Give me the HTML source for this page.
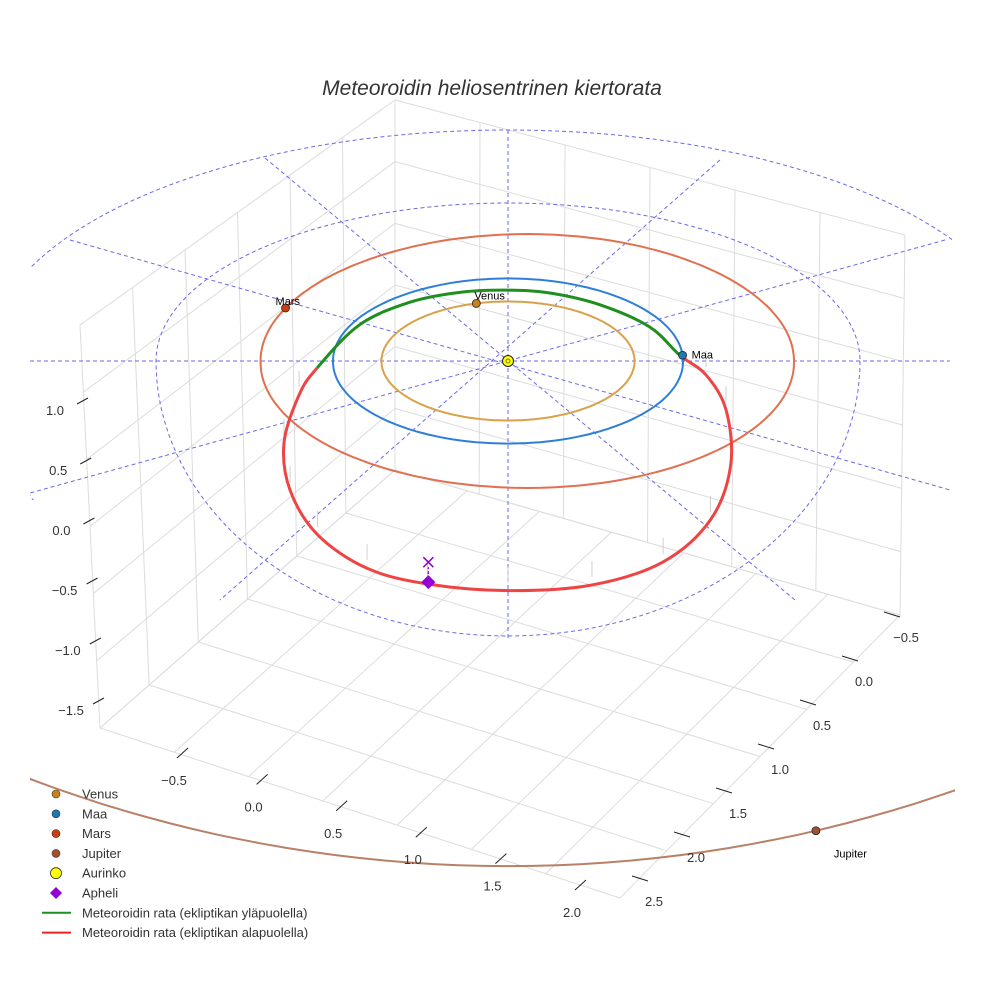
<!DOCTYPE html>
<html><head><meta charset="utf-8">
<style>
html,body{margin:0;padding:0;background:#fff;}
svg{display:block;font-family:"Liberation Sans",sans-serif;}
</style></head>
<body>
<svg id="chart" width="984" height="984" viewBox="0 0 984 984">
<rect width="984" height="984" fill="#fff"/>
<text x="492" y="95" text-anchor="middle" font-size="21" font-style="italic" fill="#333">Meteoroidin heliosentrinen kiertorata</text>
<g id="box"></g>
<g id="refs"></g>
<g id="orbits"></g>
<g id="meteor"></g>
<g id="marks"></g>
<g id="axes"></g>
<g id="legend"></g>
</svg>
<script>
// ---- data ----
const planetNames = ["Venus","Maa","Mars","Jupiter"];
const planetRadii = [0.723, 1.0, 1.524, 5.2];
const planetCenterX = [0, 0, 0.11, 0];
const planetAngles = [-104.5, -4, -155, 71];
const planetColors = ["#c8821a","#1f77b4","#cc3d10","#a0522d"];
const orbitColors = ["#d9a24a","#2f7fd8","#e07050","#b98068"];
const meteorGreen = [[0.98,-0.073],[0.81,-0.414],[0.53,-0.68],[0.24,-0.825],[0,-0.86],[-0.27,-0.835],[-0.56,-0.715],[-0.85,-0.438],[-1.09,0.085]];
const meteorRed = [[-1.19,0.414],[-1.27,0.993],[-1.23,1.55],[-1.07,2.06],[-0.79,2.43],[-0.45,2.6],[0,2.67],[0.47,2.61],[0.87,2.36],[1.14,1.89],[1.26,1.255],[1.24,0.595],[1.13,0.17]];
const aphelion = [-0.446, 2.58];
const zTicks = ["1.0","0.5","0.0","\u22120.5","\u22121.0","\u22121.5"];
const xTicks = ["\u22120.5","0.0","0.5","1.0","1.5","2.0"];
const yTicks = ["\u22120.5","0.0","0.5","1.0","1.5","2.0","2.5"];

const NS="http://www.w3.org/2000/svg";
function mk(tag,attrs,parent){const e=document.createElementNS(NS,tag);for(const k in attrs)e.setAttribute(k,attrs[k]);parent.appendChild(e);return e;}
// projection of ecliptic coordinates (AU)
const CX=508, CY=361, SX=175, SY=82, PK=0.56, PX=0.008;
function px(x,y){return CX+SX*x*(1+PX*Math.max(y||0,0));}
function py(y){return CY+SY*y+PK*y*y*y;}

// ---- box grid ----
const box=document.getElementById('box');
function bil(q,u,v){const [a,b,c,d]=q;
 const x=(1-u)*(1-v)*a[0]+u*(1-v)*b[0]+u*v*c[0]+(1-u)*v*d[0];
 const y=(1-u)*(1-v)*a[1]+u*(1-v)*b[1]+u*v*c[1]+(1-u)*v*d[1];return [x,y];}
function gridQuad(q,nu,nv){
 for(let i=0;i<=nu;i++){const p=bil(q,i/nu,0),r=bil(q,i/nu,1);
  const l=mk('line',{x1:p[0],y1:p[1],x2:r[0],y2:r[1],stroke:'#dcdcdc','stroke-width':1},box);
  }
 for(let j=0;j<=nv;j++){const p=bil(q,0,j/nv),r=bil(q,1,j/nv);
  const l=mk('line',{x1:p[0],y1:p[1],x2:r[0],y2:r[1],stroke:'#dcdcdc','stroke-width':1},box);
  }
}
gridQuad([[395,100],[80,325],[100,728],[395,470]],6,6);
gridQuad([[395,100],[905,235],[900,615],[395,470]],6,6);
gridQuad([[395,470],[100,728],[620,898],[900,615]],6,7);

// ---- reference dashed rings & rays ----
const refs=document.getElementById('refs');
function halfEll(rx,ryT,ryB){
 let d='';
 for(let i=0;i<=360;i+=2){const t=i*Math.PI/180;const s=Math.sin(t);
  const x=CX+rx*Math.cos(t);const y=CY+(s<0?ryT:ryB)*s;
  d+=(i?'L':'M')+x.toFixed(1)+','+y.toFixed(1);}
 return d;}
let e=mk('path',{d:halfEll(352,158,275),fill:'none',stroke:'#6a6ae8','stroke-width':1,'stroke-dasharray':'4,3'},refs);

const clp=mk('clipPath',{id:'cl'},refs);mk('rect',{x:30,y:0,width:922,height:500},clp);
e=mk('path',{d:halfEll(522,231,335),fill:'none',stroke:'#6a6ae8','stroke-width':1,'stroke-dasharray':'4,3','clip-path':'url(#cl)'},refs);

[[70,240,950,490],[265,158,795,600],[508,130,508,640],[720,160,220,600],[945,240,30,493],[30,361,950,361]].forEach(r=>{
 const l=mk('line',{x1:r[0],y1:r[1],x2:r[2],y2:r[3],stroke:'#6a6ae8','stroke-width':1,'stroke-dasharray':'4,3'},refs);
 });

// ---- planet orbits ----
const orb=document.getElementById('orbits');
const clipJ=mk('clipPath',{id:'cj'},orb);mk('rect',{x:30,y:0,width:925,height:984},clipJ);
planetRadii.forEach((r,i)=>{
 let d='';for(let k=0;k<=240;k++){const t=k/240*2*Math.PI;const yy=r*Math.sin(t);
  d+=(k?'L':'M')+px(planetCenterX[i]+r*Math.cos(t),yy).toFixed(1)+','+py(yy).toFixed(1);}
 const p=mk('path',{d:d,fill:'none',stroke:orbitColors[i],'stroke-width':2},orb);
 if(i===3)p.setAttribute('clip-path','url(#cj)');
 
 
});

// ---- meteoroid orbit ----
const met=document.getElementById('meteor');
const cyc=meteorGreen.concat(meteorRed).map(p=>[px(p[0],p[1]),py(p[1])]);
const N=cyc.length, gEnd=meteorGreen.length-1;
function seg(i){const p0=cyc[(i-1+N)%N],p1=cyc[i%N],p2=cyc[(i+1)%N],p3=cyc[(i+2)%N];
 const c1=[p1[0]+(p2[0]-p0[0])/6,p1[1]+(p2[1]-p0[1])/6],c2=[p2[0]-(p3[0]-p1[0])/6,p2[1]-(p3[1]-p1[1])/6];
 return 'C'+c1.join(',')+' '+c2.join(',')+' '+p2.join(',');}
let dg='M'+cyc[0].join(',');for(let i=0;i<gEnd;i++)dg+=seg(i);
let dr='M'+cyc[gEnd].join(',');for(let i=gEnd;i<N;i++)dr+=seg(i);
meteorRed.forEach(p=>{const X=px(p[0],p[1]),Y=py(p[1]);
 const l=mk('line',{x1:X,y1:Y-8,x2:X,y2:Y-24,stroke:'#c4c4c4','stroke-width':0.8},met);
 });
e=mk('path',{d:dr,fill:'none',stroke:'#ee4444','stroke-width':3},met);

e=mk('path',{d:dg,fill:'none',stroke:'#1f8f1f','stroke-width':3},met);

const ax=px(aphelion[0],aphelion[1]), ay=py(aphelion[1]);
e=mk('line',{x1:ax,y1:ay-8,x2:ax,y2:ay-15,stroke:'#9400d3','stroke-width':1.2,'stroke-dasharray':'3,2'},met);

e=mk('path',{d:`M${ax-5},${ay-25}L${ax+5},${ay-15}M${ax+5},${ay-25}L${ax-5},${ay-15}`,stroke:'#9400d3','stroke-width':1.5},met);

e=mk('path',{d:`M${ax},${ay-7}L${ax+7},${ay}L${ax},${ay+7}L${ax-7},${ay}Z`,fill:'#9400d3'},met);


// ---- planet markers ----
const mg=document.getElementById('marks');
const labOff=[[-2,-4],[9,3],[-10,-3],[18,27]];
planetRadii.forEach((r,i)=>{
 const t=planetAngles[i]*Math.PI/180;const yy=r*Math.sin(t);
 const X=px(planetCenterX[i]+r*Math.cos(t),yy),Y=py(yy);
 const c=mk('circle',{cx:X,cy:Y,r:4,fill:planetColors[i],stroke:'#222','stroke-width':0.8},mg);
 
 const tx=mk('text',{x:X+labOff[i][0],y:Y+labOff[i][1],'font-size':11,fill:'#000'},mg);tx.textContent=planetNames[i];
 
});
e=mk('circle',{cx:CX,cy:CY,r:5.5,fill:'#ffff00',stroke:'#222','stroke-width':1},mg);

e=mk('circle',{cx:CX,cy:CY,r:2,fill:'none',stroke:'#555','stroke-width':0.8},mg);


// ---- axis ticks ----
const ag=document.getElementById('axes');
zTicks.forEach((t,i)=>{const lx=55+3.2*i, ly=410+60*i;
 const tx=mk('text',{x:lx,y:ly+5,'font-size':13,fill:'#333','text-anchor':'middle'},ag);tx.textContent=t;
 
 const l=mk('line',{x1:lx+22,y1:ly-6,x2:lx+33,y2:ly-12,stroke:'#222','stroke-width':1},ag);
 });
xTicks.forEach((t,i)=>{const lx=174+79.6*i, ly=780+26.4*i;
 const tx=mk('text',{x:lx,y:ly+5,'font-size':13,fill:'#333','text-anchor':'middle'},ag);tx.textContent=t;
 
 const l=mk('line',{x1:lx+14,y1:ly-32,x2:lx+3,y2:ly-22,stroke:'#222','stroke-width':1},ag);
 });
yTicks.forEach((t,i)=>{const lx=906-42*i, ly=637+44*i;
 const tx=mk('text',{x:lx,y:ly+5,'font-size':13,fill:'#333','text-anchor':'middle'},ag);tx.textContent=t;
 
 const l=mk('line',{x1:lx-22,y1:ly-25,x2:lx-6,y2:ly-20,stroke:'#222','stroke-width':1},ag);
 });

// ---- legend ----
const lg=document.getElementById('legend');
const legLabels=["Venus","Maa","Mars","Jupiter","Aurinko","Apheli","Meteoroidin rata (ekliptikan yläpuolella)","Meteoroidin rata (ekliptikan alapuolella)"];
legLabels.forEach((t,i)=>{const y=794+19.8*i;let m;
 if(i<4){m=mk('circle',{cx:56,cy:y,r:4,fill:planetColors[i],stroke:'#333','stroke-width':0.6},lg);}
 else if(i===4){m=mk('circle',{cx:56,cy:y,r:5.5,fill:'#ffff00',stroke:'#333','stroke-width':0.8},lg);}
 else if(i===5){m=mk('path',{d:`M56,${y-6}L62,${y}L56,${y+6}L50,${y}Z`,fill:'#9400d3'},lg);}
 else {m=mk('line',{x1:42,y1:y,x2:71,y2:y,stroke:i===6?'#1f8f1f':'#ee2222','stroke-width':2},lg);}
 
 const tx=mk('text',{x:82,y:y+4.5,'font-size':13,fill:'#333'},lg);tx.textContent=t;
 });
</script>
</body></html>
